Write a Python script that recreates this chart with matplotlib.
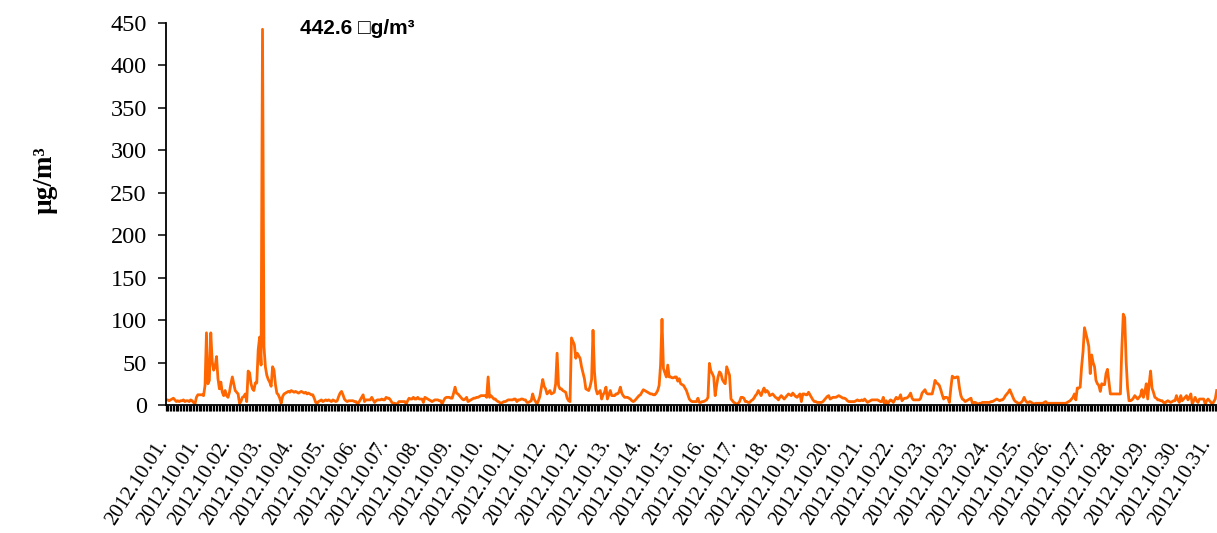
import matplotlib.pyplot as plt
from matplotlib.transforms import ScaledTranslation

# hourly concentration, 2012 October, µg/m3
# the right end of the original picture is cut, so the last hours are missing
part1 = [6, 6, 5, 6, 7, 8, 6, 4, 5, 4, 5, 5, 6, 4, 5, 5, 4, 6, 5, 3, 1, 9,
         12, 12, 12, 12, 11, 23, 85, 25, 29, 85, 51, 41, 45, 57, 31, 19, 27, 15, 11, 17, 11, 9, 15, 25,
         33, 25, 17, 15, 13, 2, 4, 9, 10, 13, 4, 40, 38, 25, 19, 17, 26, 26, 65, 80, 47, 442.6, 69,
         45, 35, 30, 27, 22, 45, 41, 24, 14, 12, 8, 2, 10, 13, 14, 15, 16, 15, 17, 16, 15, 16, 15, 14,
         15, 16, 15, 14, 15, 13, 14, 13, 12, 12, 8, 3, 2, 4, 5, 6, 4, 5, 6, 5, 6, 5, 4, 6]
part2 = [5, 4, 5, 10, 14, 16, 12, 7, 5, 4, 5, 5, 5, 5, 4, 4, 1, 3, 6, 9, 12, 4, 6,
         6, 6, 6, 9, 6, 3, 5, 6, 6, 6, 7, 6, 6, 9, 8, 8, 6, 3, 2, 2, 1, 2, 4, 4,
         4, 4, 4, 1, 5, 8, 7, 7, 9, 7, 7, 9, 7, 7, 7, 3, 9, 8, 7, 6, 5, 4, 5, 6,
         6, 6, 5, 5, 1, 5, 8, 9, 9, 9, 8, 8, 14, 21, 14, 13, 11, 9, 7, 6, 7, 9, 4,
         5, 6, 7, 8, 8, 9, 9, 10, 11, 11, 11, 11, 9, 33, 9, 11, 9, 7, 7, 5, 4, 3, 2, 3]
part3 = [4, 4, 5, 6, 6, 6, 6, 7, 7, 4, 6, 6, 7, 7, 6, 6, 3, 3, 4, 5, 13, 7, 4, 1,
         5, 10, 20, 30, 22, 19, 13, 15, 17, 13, 14, 15, 25, 61, 23, 19, 19, 17, 16, 15, 8, 5, 4,
         79, 75, 71, 55, 61, 58, 55, 45, 38, 31, 19, 18, 17, 22, 30, 88, 39, 19, 13, 15, 17, 7, 12, 15,
         21, 7, 12, 17, 11, 11, 11, 13, 13, 15, 21, 14, 11, 9, 9, 9, 8, 7, 5, 4, 5, 7, 9, 11,
         12, 15, 18, 17, 16, 15, 14, 13, 13, 12, 12, 14, 17, 23, 47, 101, 43, 38, 33, 47, 33, 33, 32]
part4 = [32, 33, 33, 28, 31, 25, 24, 23, 20, 17, 12, 7, 5, 4, 4, 4, 4, 8, 3, 3, 4, 4, 5, 6,
         9, 49, 40, 37, 33, 11, 23, 33, 39, 37, 30, 27, 25, 45, 40, 35, 7, 5, 3, 2, 1, 2, 4, 9,
         9, 8, 4, 4, 3, 3, 5, 6, 8, 11, 13, 17, 14, 11, 16, 20, 15, 17, 15, 11, 12, 13, 11,
         9, 8, 6, 9, 11, 9, 7, 9, 11, 13, 12, 11, 14, 12, 10, 9, 11, 13, 4, 13, 13, 12, 12, 15,
         12, 9, 6, 4, 4, 3, 3, 3, 3, 4, 6, 8, 10, 11, 7, 8, 9, 9, 9, 10, 11, 10, 9]
part5 = [8, 8, 7, 5, 4, 4, 4, 4, 4, 5, 6, 5, 5, 6, 5, 7, 5, 3, 4, 5, 6, 6, 6, 6,
         6, 5, 4, 4, 9, 1, 5, 1, 4, 6, 5, 3, 6, 9, 7, 8, 12, 5, 7, 8, 8, 9, 11, 14,
         8, 6, 6, 6, 6, 6, 8, 14, 16, 18, 14, 13, 13, 13, 13, 20, 29, 26, 25, 23, 18, 12, 7,
         9, 9, 8, 3, 20, 34, 32, 32, 33, 33, 20, 11, 7, 6, 4, 5, 6, 7, 8, 2, 3, 3, 2, 1,
         2, 2, 3, 3, 3, 3, 3, 3, 4, 4, 5, 6, 7, 6, 5, 6, 6, 8, 11, 13, 15, 18, 14, 10]
part6 = [6, 4, 3, 2, 2, 3, 5, 9, 5, 3, 3, 4, 3, 2, 1, 2, 2, 2, 2, 2, 2, 3, 4,
         2, 2, 2, 2, 2, 2, 2, 2, 2, 2, 2, 2, 2, 2, 3, 4, 5, 7, 9, 13, 6, 20, 20, 21,
         45, 63, 91, 84, 77, 69, 37, 59, 50, 45, 29, 25, 23, 16, 25, 24, 24, 37, 42, 28, 13, 13, 13, 13,
         13, 13, 13, 13, 67, 107, 103, 51, 20, 5, 5, 6, 8, 11, 9, 7, 9, 11, 18, 9, 15, 25, 7,
         25, 40, 20, 15, 9, 8, 6, 6, 5, 5, 3, 2, 4, 5, 4, 3, 4, 5, 5, 11, 6, 3, 11, 5,
         7, 9, 11, 6, 9, 13, 1, 5, 9, 5, 3, 7, 7, 7, 7, 1, 5, 7, 5, 3, 1, 4, 7, 17]

values = part1 + part2 + part3 + part4 + part5 + part6
hours = list(range(len(values)))

n_hours = 744      # whole month on the category axis
label_step = 22
date_labels = ['2012.10.01.', '2012.10.01.', '2012.10.02.', '2012.10.03.', '2012.10.04.',
               '2012.10.05.', '2012.10.06.', '2012.10.07.', '2012.10.08.', '2012.10.09.',
               '2012.10.10.', '2012.10.11.', '2012.10.12.', '2012.10.12.', '2012.10.13.',
               '2012.10.14.', '2012.10.15.', '2012.10.16.', '2012.10.17.', '2012.10.18.',
               '2012.10.19.', '2012.10.20.', '2012.10.21.', '2012.10.22.', '2012.10.23.',
               '2012.10.23.', '2012.10.24.', '2012.10.25.', '2012.10.26.', '2012.10.27.',
               '2012.10.28.', '2012.10.29.', '2012.10.30.', '2012.10.31.']
y_ticks = [0, 50, 100, 150, 200, 250, 300, 350, 400, 450]
peak_text = '442.6 \u25a1g/m\u00b3'

plt.rcParams['font.family'] = ['Liberation Serif', 'DejaVu Serif']

fig = plt.figure(figsize=(12.17, 5.33), dpi=100)
ax = fig.add_axes([0.136, 0.2402, 0.8785, 0.7167])

ax.plot(hours, values, color='#FF6600', lw=2.0)

ax.set_xlim(-0.5, n_hours - 0.5)
ax.set_ylim(0, 450)
ax.set_yticks(y_ticks)
ax.tick_params(axis='y', direction='out', length=5.5, width=1.1, pad=8, labelsize=17.5)

# a tick between every hour, labels every 22 hours
ax.set_xticks([h - 0.5 for h in range(n_hours + 1)], minor=True)
ax.set_xticks([i * label_step for i in range(len(date_labels))])
ax.set_xticklabels(date_labels, rotation=57, ha='right', va='top',
                   rotation_mode='anchor', fontsize=15)
ax.tick_params(axis='x', which='minor', direction='out', length=4.5, width=0.9)
ax.tick_params(axis='x', which='major', length=0, pad=22)
shift = ScaledTranslation(-0.10, 0, fig.dpi_scale_trans)
for lab in ax.get_xticklabels():
    lab.set_transform(lab.get_transform() + shift)

for side in ['top', 'right']:
    ax.spines[side].set_visible(False)
ax.spines['left'].set_linewidth(1.3)
ax.spines['bottom'].set_linewidth(1.3)

fig.text(45 / 1217, 1 - 180 / 533, 'µg/m³', rotation=90, ha='center', va='center',
         fontsize=19.5, fontweight='bold')
fig.text(300 / 1217, 1 - 28 / 533, peak_text, ha='left', va='center', fontsize=15,
         fontweight='bold', family=['Liberation Sans', 'DejaVu Sans'])

fig.savefig('out.png', dpi=100)
